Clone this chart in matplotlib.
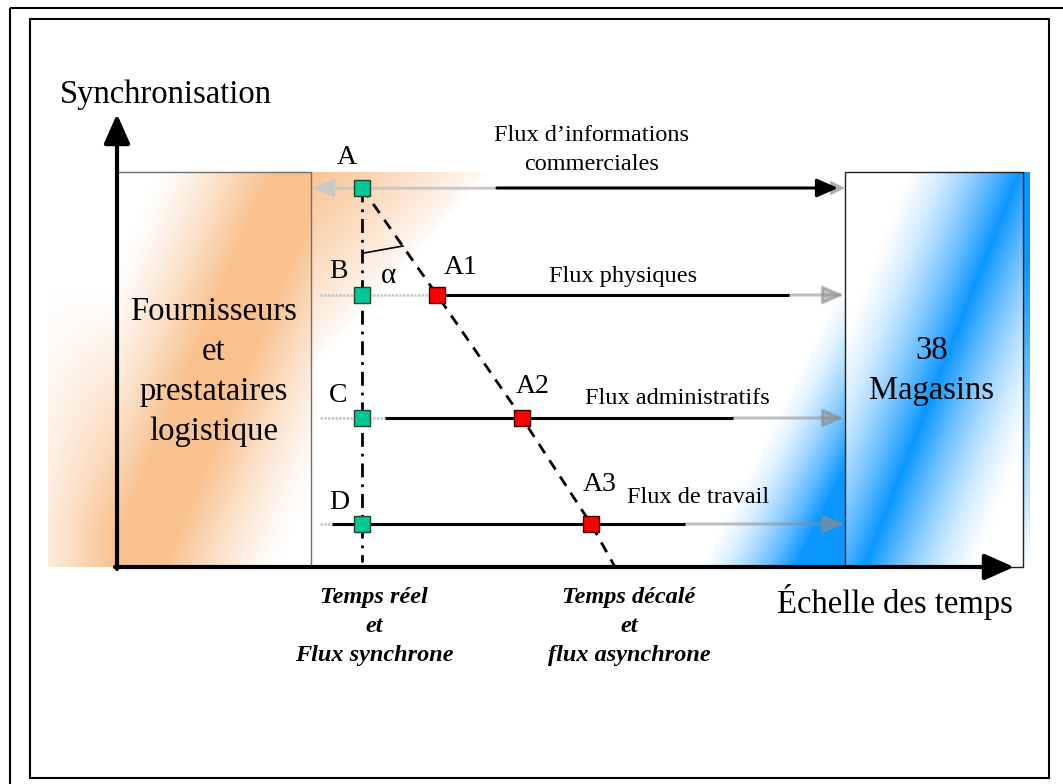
import numpy as np
import matplotlib
matplotlib.use("Agg")
import matplotlib.pyplot as plt
from matplotlib.patches import Rectangle

plt.rcParams["font.family"] = ["Liberation Serif", "DejaVu Serif"]

# Diagram content (pixel layout of the original figure)
row_names = ["A", "B", "C", "D"]
row_y = [188, 295, 418, 524]
row_label_pos = [(347, 157), (338, 271), (338, 395), (339, 502)]
sync_x = 362
async_names = ["A1", "A2", "A3"]
async_pts = [(437, 295), (522, 418), (591, 524)]
async_label_pos = [(461, 267), (533, 386), (600, 484)]
async_end = (615, 567)
flux_labels = ["Flux d\u2019informations\ncommerciales", "Flux physiques",
               "Flux administratifs", "Flux de travail"]
flux_label_pos = [(592, 150), (623, 276), (677, 398), (698, 497)]
black_start = [497, 437, 385, 332]
black_end = [838, 789, 733, 685]
faint_start = [313, 320, 320, 320]
left_box_lines = ["Fournisseurs", "et", "prestataires", "logistique"]
right_box_lines = ["38", "Magasins"]
caption_sync = ["Temps r\u00e9el", "et", "Flux synchrone"]
caption_async = ["Temps d\u00e9cal\u00e9", "et", "flux asynchrone"]

orange = np.array([0.976, 0.757, 0.557])
blue = np.array([0.04, 0.59, 1.0])

fig = plt.figure(figsize=(10.63, 7.84), dpi=100)
ax = fig.add_axes([0, 0, 1, 1])
ax.set_xlim(0, 1063)
ax.set_ylim(784, 0)
ax.axis("off")


def grad(x0, x1, y0, y1, color, func, z=1):
    xs = np.linspace(0, 1, 300)
    ys = np.linspace(0, 1, 300)
    xn, yn = np.meshgrid(xs, ys)
    a = np.clip(func(xn, yn), 0, 1)
    img = np.zeros((300, 300, 4))
    img[..., :3] = color
    img[..., 3] = a
    ax.imshow(img, extent=(x0, x1, y1, y0), origin="upper", aspect="auto",
              interpolation="bilinear", zorder=z)


def band(xn, yn, c, k, hw):
    return np.clip(1 - np.abs(xn - c + k * yn) / hw, 0, 1)


# orange background halo
grad(48, 117, 172, 567, orange,
     lambda x, y: np.clip((y - 0.3) / 0.6, 0, 1) * (0.3 + 0.7 * x))
grad(311, 500, 172, 567, orange,
     lambda x, y: np.clip(1 - (x + 1.9 * y) / 0.95, 0, 1) ** 0.8 * 0.95)
# orange box
grad(117, 311, 172, 567, orange,
     lambda x, y: np.clip(1.25 * band(x, y, 0.94, 0.85, 0.75), 0, 1) ** 1.3, z=2)

# blue background halo
grad(680, 845, 172, 567, blue,
     lambda x, y: np.clip((x + 1.2 * y - 1.3) / 0.6, 0, 1) ** 1.5)
grad(1023, 1030, 172, 567, blue, lambda x, y: np.clip(1.3 - 1.3 * y, 0, 1))
# blue box
grad(845, 1023, 172, 567, blue,
     lambda x, y: band(x, y, 0.98, 0.87, 0.65) ** 1.5, z=2)

ax.add_patch(Rectangle((117, 172), 194, 395, fill=False, ec="#707070", lw=1, zorder=3))
ax.add_patch(Rectangle((845, 172), 178, 395, fill=False, ec="#202020", lw=1, zorder=3))

# frames
ax.add_patch(Rectangle((30, 19), 1019, 759, fill=False, ec="black", lw=1.5, zorder=10))
ax.add_patch(Rectangle((10, 8), 1070, 800, fill=False, ec="black", lw=1.5, zorder=10))

# axes arrows
ax.annotate("", xy=(117, 114), xytext=(117, 569),
            arrowprops=dict(arrowstyle="-|>,head_length=0.9,head_width=0.4", color="black",
                            lw=3, shrinkA=0, shrinkB=0, mutation_scale=20), zorder=6)
ax.annotate("", xy=(1014, 567), xytext=(115, 567),
            arrowprops=dict(arrowstyle="-|>,head_length=0.9,head_width=0.4", color="black",
                            lw=3, shrinkA=0, shrinkB=0, mutation_scale=20), zorder=6)

# flux lines
for i, y in enumerate(row_y):
    ax.plot([faint_start[i], black_start[i]], [y, y], color="#c4c4c4", lw=1.8, ls=(0, (1, 0.5)), zorder=4)
    if i == 0:
        ax.annotate("", xy=(313, y), xytext=(black_start[i], y),
                    arrowprops=dict(arrowstyle="-|>,head_length=0.8,head_width=0.35",
                                    color="#c8c8c8", lw=1.8, shrinkA=0, shrinkB=0,
                                    mutation_scale=16), zorder=4)
        ax.annotate("", xy=(845, y), xytext=(black_end[i], y),
                    arrowprops=dict(arrowstyle="-|>,head_length=0.6,head_width=0.3",
                                    color="#b0b0b0", lw=1.5, shrinkA=0, shrinkB=0,
                                    mutation_scale=14), zorder=4)
        ax.annotate("", xy=(black_end[i], y), xytext=(black_start[i], y),
                    arrowprops=dict(arrowstyle="-|>,head_length=0.8,head_width=0.35",
                                    color="black", lw=2.2, shrinkA=0, shrinkB=0,
                                    mutation_scale=16), zorder=5)
    else:
        ax.plot([black_start[i], black_end[i]], [y, y], color="black", lw=2.2,
                solid_capstyle="butt", zorder=5)
        ax.annotate("", xy=(844, y), xytext=(black_end[i], y),
                    arrowprops=dict(arrowstyle="-|>,head_length=0.8,head_width=0.35",
                                    color="#8c8c8c", alpha=0.55, lw=2.2, shrinkA=0,
                                    shrinkB=0, mutation_scale=16), zorder=4)

# synchronous vertical and asynchronous diagonal
ax.plot([sync_x, sync_x], [row_y[0], 562], color="black", lw=2, dashes=(5, 2.5, 1, 2.5), zorder=5)
dx = [sync_x] + [p[0] for p in async_pts] + [async_end[0]]
dy = [row_y[0]] + [p[1] for p in async_pts] + [async_end[1]]
ax.plot(dx, dy, color="black", lw=2, dashes=(4, 3), zorder=5)
ax.plot([364, 403], [253, 246], color="black", lw=1.2, zorder=5)
ax.text(388, 276, "\u03b1", fontsize=21, ha="center", va="center", zorder=7)

# markers
ax.plot([sync_x] * len(row_y), row_y, ls="none", marker="s", ms=12, mfc="#00c896",
        mec="#204030", mew=1, zorder=8)
ax.plot([p[0] for p in async_pts], [p[1] for p in async_pts], ls="none", marker="s",
        ms=12, mfc="#ff0000", mec="#300000", mew=1, zorder=8)

# labels
for name, (x, y) in zip(row_names, row_label_pos):
    ax.text(x, y, name, fontsize=20, ha="center", va="center", zorder=7)
for name, (x, y) in zip(async_names, async_label_pos):
    ax.text(x, y, name, fontsize=20, ha="center", va="center", zorder=7)
for lab, (x, y) in zip(flux_labels, flux_label_pos):
    ax.text(x, y, lab, fontsize=17.5, ha="center", va="center", linespacing=1.55, zorder=7)

for k, line in enumerate(left_box_lines):
    ax.text(214, 312 + 40 * k, line, fontsize=23.5, ha="center", va="center", zorder=7)
for k, line in enumerate(right_box_lines):
    ax.text(932, 351 + 40 * k, line, fontsize=23.5, ha="center", va="center", zorder=7)

ax.text(60, 95, "Synchronisation", fontsize=23.5, ha="left", va="center", zorder=7)
ax.text(895, 602, "\u00c9chelle des temps", fontsize=23.5, ha="center", va="center", zorder=7)

for k, line in enumerate(caption_sync):
    ax.text(374, 597 + 29.5 * k, line, fontsize=17.5, style="italic", weight="bold",
            ha="center", va="center", zorder=7)
for k, line in enumerate(caption_async):
    ax.text(629, 597 + 29.5 * k, line, fontsize=17.5, style="italic", weight="bold",
            ha="center", va="center", zorder=7)

fig.savefig("out.png", dpi=100)
